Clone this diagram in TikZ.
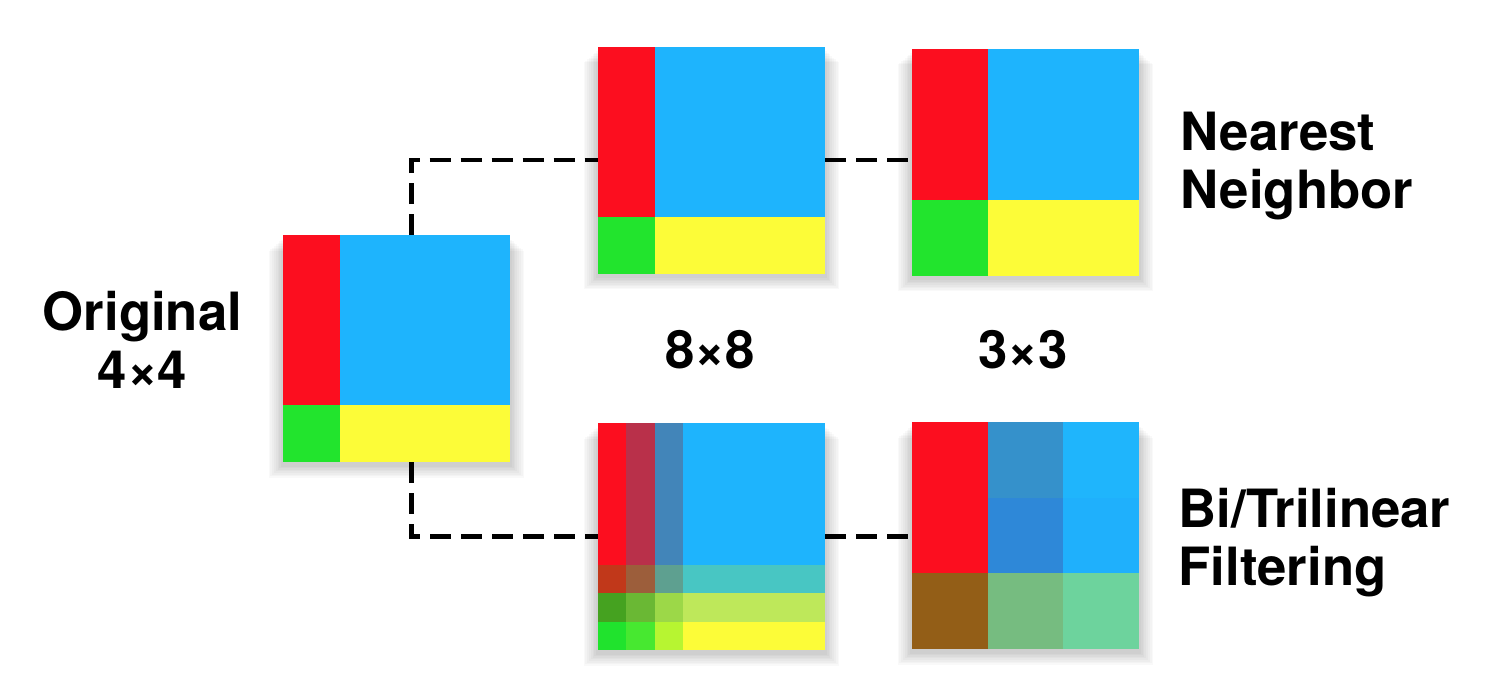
\documentclass[tikz,border=0pt]{standalone}
\usepackage{fontspec}
\setmainfont{TeX Gyre Heros}
\usepackage{xcolor}
\usepackage{tikz}
\usetikzlibrary{positioning}

\definecolor{cred}{HTML}{FC0E1F}
\definecolor{cblue}{HTML}{1EB4FD}
\definecolor{cgreen}{HTML}{22E42D}
\definecolor{cyellow}{HTML}{FCFC38}
% blended cells, 8x8
\definecolor{ba1}{HTML}{B9304A}
\definecolor{ba2}{HTML}{4285B9}
\definecolor{bb0}{HTML}{C1381A}
\definecolor{bb1}{HTML}{9C5E3B}
\definecolor{bb2}{HTML}{5EA090}
\definecolor{bb3}{HTML}{48C6C3}
\definecolor{bc0}{HTML}{45A220}
\definecolor{bc1}{HTML}{6AB834}
\definecolor{bc2}{HTML}{9CD848}
\definecolor{bc3}{HTML}{BEE85A}
\definecolor{bd0}{HTML}{20E32D}
\definecolor{bd1}{HTML}{47E830}
\definecolor{bd2}{HTML}{B7F531}
% blended cells, 3x3
\definecolor{ta}{HTML}{3591CB}
\definecolor{tb}{HTML}{2E88D8}
\definecolor{tc}{HTML}{935E17}
\definecolor{td}{HTML}{76BC80}
\definecolor{te}{HTML}{1FB5FC}
\definecolor{tf}{HTML}{1FB0FC}
\definecolor{tg}{HTML}{6DD39D}

\tikzset{
  img/.style={minimum size=2.27cm, inner sep=0pt, outer sep=0pt},
  link/.style={line width=0.045cm, dash pattern=on 0.21cm off 0.1cm},
  lbl/.style={font=\fontsize{15}{16.5}\selectfont\bfseries, inner sep=0pt}
}

\newcommand\softshadow[1]{%
  \foreach \s in {1,...,8}
    \fill[black, opacity=0.022]
      ([shift={(-\s*0.018cm,-\s*0.016cm-0.03cm)}]#1.north west) rectangle
      ([shift={(\s*0.018cm,-\s*0.016cm-0.03cm)}]#1.south east);
}

\begin{document}
\begin{tikzpicture}
  \useasboundingbox (0,0) rectangle (14.88,-6.98);
  \fill[white] (0,0) rectangle (14.88,-6.98);

  % images
  \node[img] (orig) at (3.965,-3.485) {};
  \node[img] (nn8) at (7.115,-1.60) {};
  \node[img] (nn3) at (10.255,-1.62) {};
  \node[img] (bl8) at (7.115,-5.365) {};
  \node[img] (bl3) at (10.255,-5.355) {};

  \softshadow{orig}
  \softshadow{nn8}
  \softshadow{nn3}
  \softshadow{bl8}
  \softshadow{bl3}

  % original 4x4
  \begin{scope}[shift={(orig.north west)}, x=0.5675cm, y=-0.5675cm]
    \fill[cblue] (0,0) rectangle (4,4);
    \fill[cred] (0,0) rectangle (1,3);
    \fill[cgreen] (0,3) rectangle (1,4);
    \fill[cyellow] (1,3) rectangle (4,4);
  \end{scope}

  % nearest neighbor 8x8
  \begin{scope}[shift={(nn8.north west)}, x=0.28375cm, y=-0.28375cm]
    \fill[cblue] (0,0) rectangle (8,8);
    \fill[cred] (0,0) rectangle (2,6);
    \fill[cgreen] (0,6) rectangle (2,8);
    \fill[cyellow] (2,6) rectangle (8,8);
  \end{scope}

  % nearest neighbor 3x3
  \begin{scope}[shift={(nn3.north west)}, x=0.7567cm, y=-0.7567cm]
    \fill[cblue] (0,0) rectangle (3,3);
    \fill[cred] (0,0) rectangle (1,2);
    \fill[cgreen] (0,2) rectangle (1,3);
    \fill[cyellow] (1,2) rectangle (3,3);
  \end{scope}

  % bilinear 8x8
  \begin{scope}[shift={(bl8.north west)}, x=0.28375cm, y=-0.28375cm]
    \fill[cblue] (0,0) rectangle (8,8);
    \foreach \c [count=\i from 0] in {cred,ba1,ba2}
      \fill[\c] (\i,0) rectangle (\i+1,5);
    \foreach \a/\b/\c/\d [count=\j from 5] in
        {bb0/bb1/bb2/bb3, bc0/bc1/bc2/bc3, bd0/bd1/bd2/cyellow}{
      \fill[\a] (0,\j) rectangle (1,\j+1);
      \fill[\b] (1,\j) rectangle (2,\j+1);
      \fill[\c] (2,\j) rectangle (3,\j+1);
      \fill[\d] (3,\j) rectangle (8,\j+1);
    }
  \end{scope}

  % bilinear 3x3
  \begin{scope}[shift={(bl3.north west)}, x=0.7567cm, y=-0.7567cm]
    \foreach \a/\b/\c [count=\i from 0] in {cred/cred/tc, ta/tb/td, te/tf/tg}{
      \fill[\a] (\i,0) rectangle (\i+1,1);
      \fill[\b] (\i,1) rectangle (\i+1,2);
      \fill[\c] (\i,2) rectangle (\i+1,3);
    }
  \end{scope}

  % dashed connectors
  \draw[link] ([xshift=0.15cm]orig.north) |- (nn8.west);
  \draw[link] ([xshift=0.15cm]orig.south) |- (bl8.west);
  \draw[link] (nn8.east) -- (nn8.east -| nn3.west);
  \draw[link] (bl8.east) -- (bl8.east -| bl3.west);

  % labels
  \node[lbl, align=center] (origlbl) at (1.425,-3.40) {Original\\4×4};
  \node[lbl, anchor=base] (size8) at (7.10,-3.68) {8×8};
  \node[lbl, anchor=base] (size3) at (10.23,-3.68) {3×3};
  \node[lbl, align=left, anchor=west] (nnlbl) at (11.80,-1.66) {Nearest\\Neighbor};
  \node[lbl, align=left, anchor=west] (bllbl) at (11.78,-5.43) {Bi/Trilinear\\Filtering};
\end{tikzpicture}
\end{document}
